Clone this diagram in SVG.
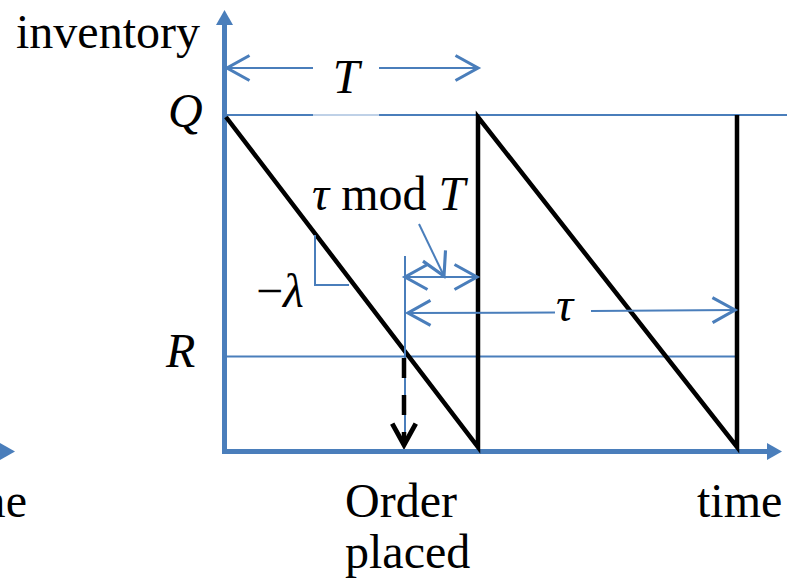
<svg xmlns="http://www.w3.org/2000/svg" width="803" height="584" viewBox="0 0 803 584">
<style>
.t{font-family:"Liberation Serif","Times New Roman",serif;font-size:48px;fill:#000}
.i{font-style:italic}
.ax{stroke:#4a7ebb;stroke-width:5;fill:none}
.bl{stroke:#4a7ebb;stroke-width:2;fill:none}
.bk{stroke:#000;stroke-width:4.5;fill:none;stroke-linejoin:miter}
</style>
<defs>
<marker id="chev" markerUnits="userSpaceOnUse" markerWidth="30" markerHeight="30" viewBox="-20 -12 22 24" refX="0" refY="0" orient="auto-start-reverse">
<path d="M-18,-10 L0,0 L-18,10" fill="none" stroke="#4a7ebb" stroke-width="2.5"/>
</marker>
<marker id="chevk" markerUnits="userSpaceOnUse" markerWidth="30" markerHeight="30" viewBox="-22 -14 24 28" refX="0" refY="0" orient="auto">
<path d="M-20,-11 L0,0 L-20,11" fill="none" stroke="#000" stroke-width="4.5"/>
</marker>
</defs>
<rect width="803" height="584" fill="#fff"/>
<g id="axes">
<line class="ax" x1="224.5" y1="454" x2="224.5" y2="24"/>
<path d="M216,25 L224.5,10 L233,25 Z" fill="#4a7ebb"/>
<line class="ax" x1="222" y1="451.5" x2="768" y2="451.5"/>
<path d="M767,443 L782,451.5 L767,460 Z" fill="#4a7ebb"/>
<path d="M0,443 L15,451.5 L0,460 Z" fill="#4a7ebb"/>
</g>
<g id="levels">
<line class="bl" x1="226" y1="115" x2="313" y2="115"/>
<line x1="313" y1="115" x2="379" y2="115" stroke="#4a7ebb" stroke-width="2" opacity="0.35"/>
<line class="bl" x1="379" y1="115" x2="787" y2="115"/>
<line class="bl" x1="226" y1="356.5" x2="737" y2="356.5"/>
</g>
<g id="sawtooth">
<polyline class="bk" points="226,117 478,447 478,117 737,447 737,115"/>
</g>
<g id="connectors">
<line class="bl" x1="227" y1="68" x2="313" y2="68" marker-start="url(#chev)"/>
<line class="bl" x1="379" y1="68" x2="478" y2="68" marker-end="url(#chev)"/>
<line class="bl" x1="405" y1="256" x2="405" y2="445"/>
<line class="bl" x1="405" y1="277" x2="477" y2="277" marker-start="url(#chev)" marker-end="url(#chev)"/>
<line class="bl" x1="419" y1="224" x2="444" y2="276" marker-end="url(#chev)"/>
<line class="bl" x1="408" y1="313" x2="555" y2="312.5" marker-start="url(#chev)"/>
<line class="bl" x1="591" y1="311" x2="735" y2="310" marker-end="url(#chev)"/>
<polyline class="bl" points="315,235 315,285 349,285"/>
<line x1="404" y1="358" x2="404" y2="445" stroke="#000" stroke-width="4.5" stroke-dasharray="20 17" marker-end="url(#chevk)"/>
</g>
<g id="labels">
<text class="t" x="16" y="48">inventory</text>
<text class="t i" x="346" y="93" text-anchor="middle">T</text>
<text class="t i" x="168" y="127">Q</text>
<text class="t i" x="166" y="367">R</text>
<text class="t" x="312" y="210"><tspan class="i">τ</tspan> mod <tspan class="i">T</tspan></text>
<text class="t" x="256" y="307">−<tspan class="i">λ</tspan></text>
<text class="t i" x="556" y="321">τ</text>
<text class="t" x="345" y="517">Order</text>
<text class="t" x="345" y="568">placed</text>
<text class="t" x="697" y="517">time</text>
<text class="t" x="27" y="517" text-anchor="end">time</text>
</g>
</svg>
